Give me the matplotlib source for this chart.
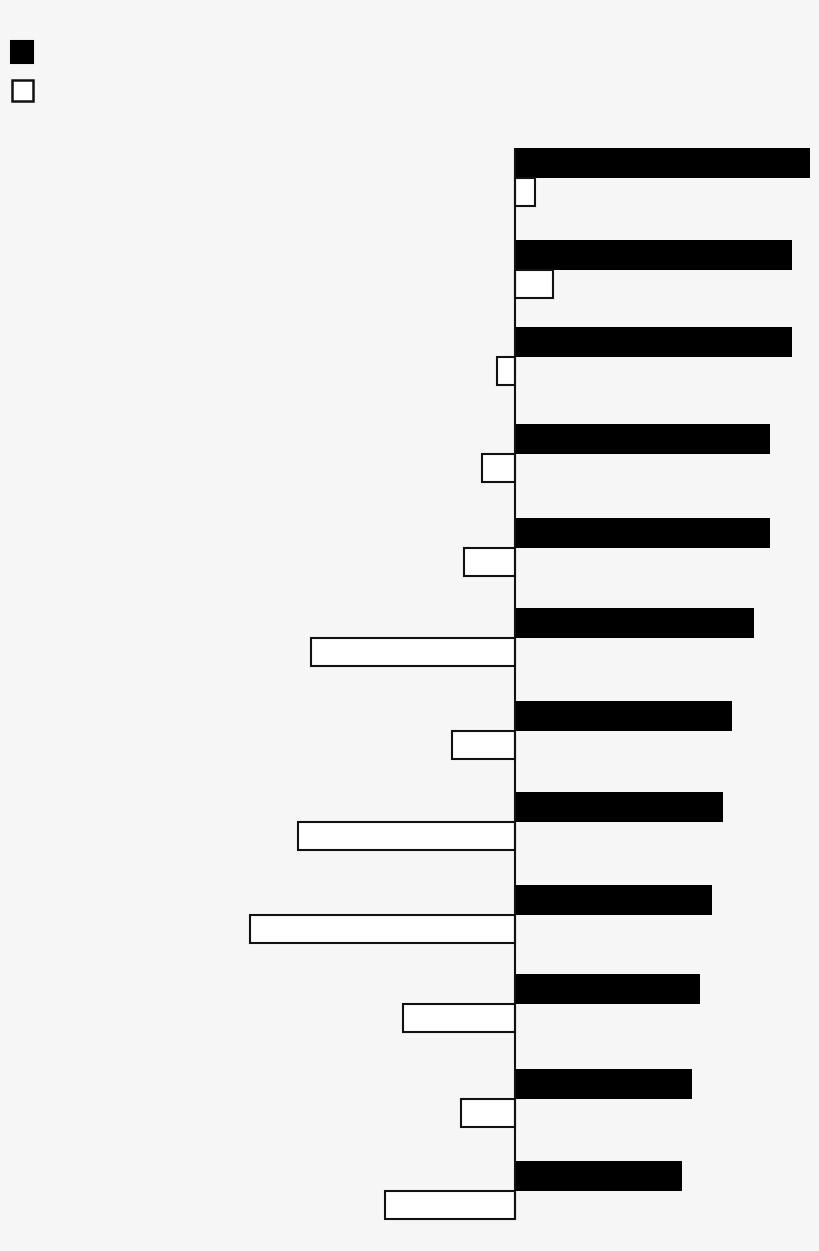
import matplotlib
matplotlib.use("Agg")
import matplotlib.pyplot as plt
from matplotlib.patches import Rectangle

# values (pixel units from the zero line)
series_a = [295, 277, 277, 255, 255, 239, 217, 208, 197, 185, 177, 167]
series_b = [20, 38, -18, -33, -51, -204, -63, -217, -265, -112, -54, -130]

# layout: the boundary between the two bars of each row (rows are unevenly spaced)
row_pos = [178, 270, 357, 454, 548, 638, 731, 822, 915, 1004, 1099, 1191]
H_A = 30
H_B = 28
BG = "#f6f6f6"


def main():
    fig = plt.figure(figsize=(8.2, 12.51), dpi=100, facecolor=BG)
    ax = fig.add_axes([0, 0, 1, 1])
    ax.set_facecolor(BG)
    ax.set_xlim(-515, 305)
    ax.set_ylim(1251, 0)
    ax.axis("off")

    # black bars sit just above the row boundary, white bars just below
    ax.barh([p - H_A / 2 for p in row_pos], series_a, height=H_A,
            color="black", edgecolor="black", linewidth=0)
    ax.barh([p + H_B / 2 for p in row_pos], series_b, height=H_B,
            color="white", edgecolor="#111111", linewidth=1.5)

    ax.vlines(0, row_pos[0] - H_A, row_pos[-1] + H_B, color="#111111", linewidth=1.5, zorder=3)

    # legend swatches, no labels in the reference
    ax.add_patch(Rectangle((-504, 41), 22, 22, facecolor="black", edgecolor="black",
                           linewidth=1.5))
    ax.add_patch(Rectangle((-503, 80), 21, 21, facecolor="white", edgecolor="#111111",
                           linewidth=1.8))

    fig.savefig("out.png", dpi=100, facecolor=BG)


if __name__ == '__main__':
    main()
